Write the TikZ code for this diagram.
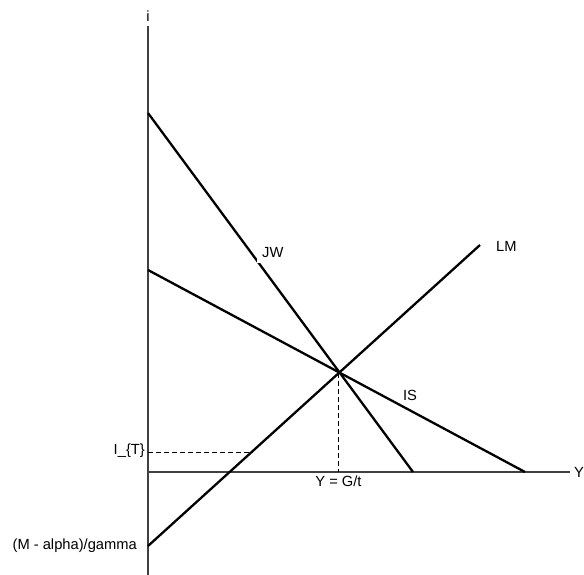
\documentclass[tikz,border=0pt]{standalone}
\usepackage{fontspec}
\setmainfont{Liberation Sans}
\begin{document}
\begin{tikzpicture}[x=1pt,y=-1pt,
  axis/.style={line width=1.1pt,draw=black!75},
  curve/.style={line width=2.3pt,line cap=butt},
  guide/.style={line width=0.9pt,dash pattern=on 5pt off 3pt},
  lbl/.style={font=\fontsize{14.7}{17}\selectfont,inner sep=0pt}]
\useasboundingbox (0,0) rectangle (584,575);
% coordinates
\coordinate (O) at (148,472);
\coordinate (Ytop) at (148,26);
\coordinate (Ybot) at (148,575);
\coordinate (Xend) at (570,472);
\coordinate (JWa) at (148,113);
\coordinate (JWb) at (413,472);
\coordinate (ISa) at (148,270);
\coordinate (ISb) at (525,472);
\coordinate (LMa) at (148,546);
\coordinate (LMb) at (480,245);
\coordinate (E) at (338.5,372.5);
\coordinate (Ex) at (338.5,472);
\coordinate (It) at (148,452);
\coordinate (Itend) at (253,452);
% axes
\draw[axis] (Ybot) -- (Ytop);
\draw[axis] (O) -- (Xend);
% curves
\draw[curve] (JWa) -- (JWb);
\draw[curve] (ISa) -- (ISb);
\draw[curve] (LMa) -- (LMb);
% guides
\draw[guide] (E) -- (Ex);
\draw[guide] (It) -- (Itend);
% labels
\node[lbl] (li) at (148,16) {i};
\node[lbl,anchor=west] (lY) at (574,472) {Y};
\node[lbl,anchor=west,fill=white,inner sep=5pt] (lJW) at (257,253) {JW};
\node[lbl,anchor=west] (lLM) at (496,246) {LM};
\node[lbl] (lIS) at (410,395) {IS};
\node[lbl,anchor=north] (lG) at (Ex) [yshift=-4pt] {Y = G/t};
\node[lbl,anchor=east] (lIT) at (145,451) {I\_\{T\}};
\node[lbl,anchor=east] (lM) at (137,546) {(M - alpha)/gamma};
\end{tikzpicture}
\end{document}
